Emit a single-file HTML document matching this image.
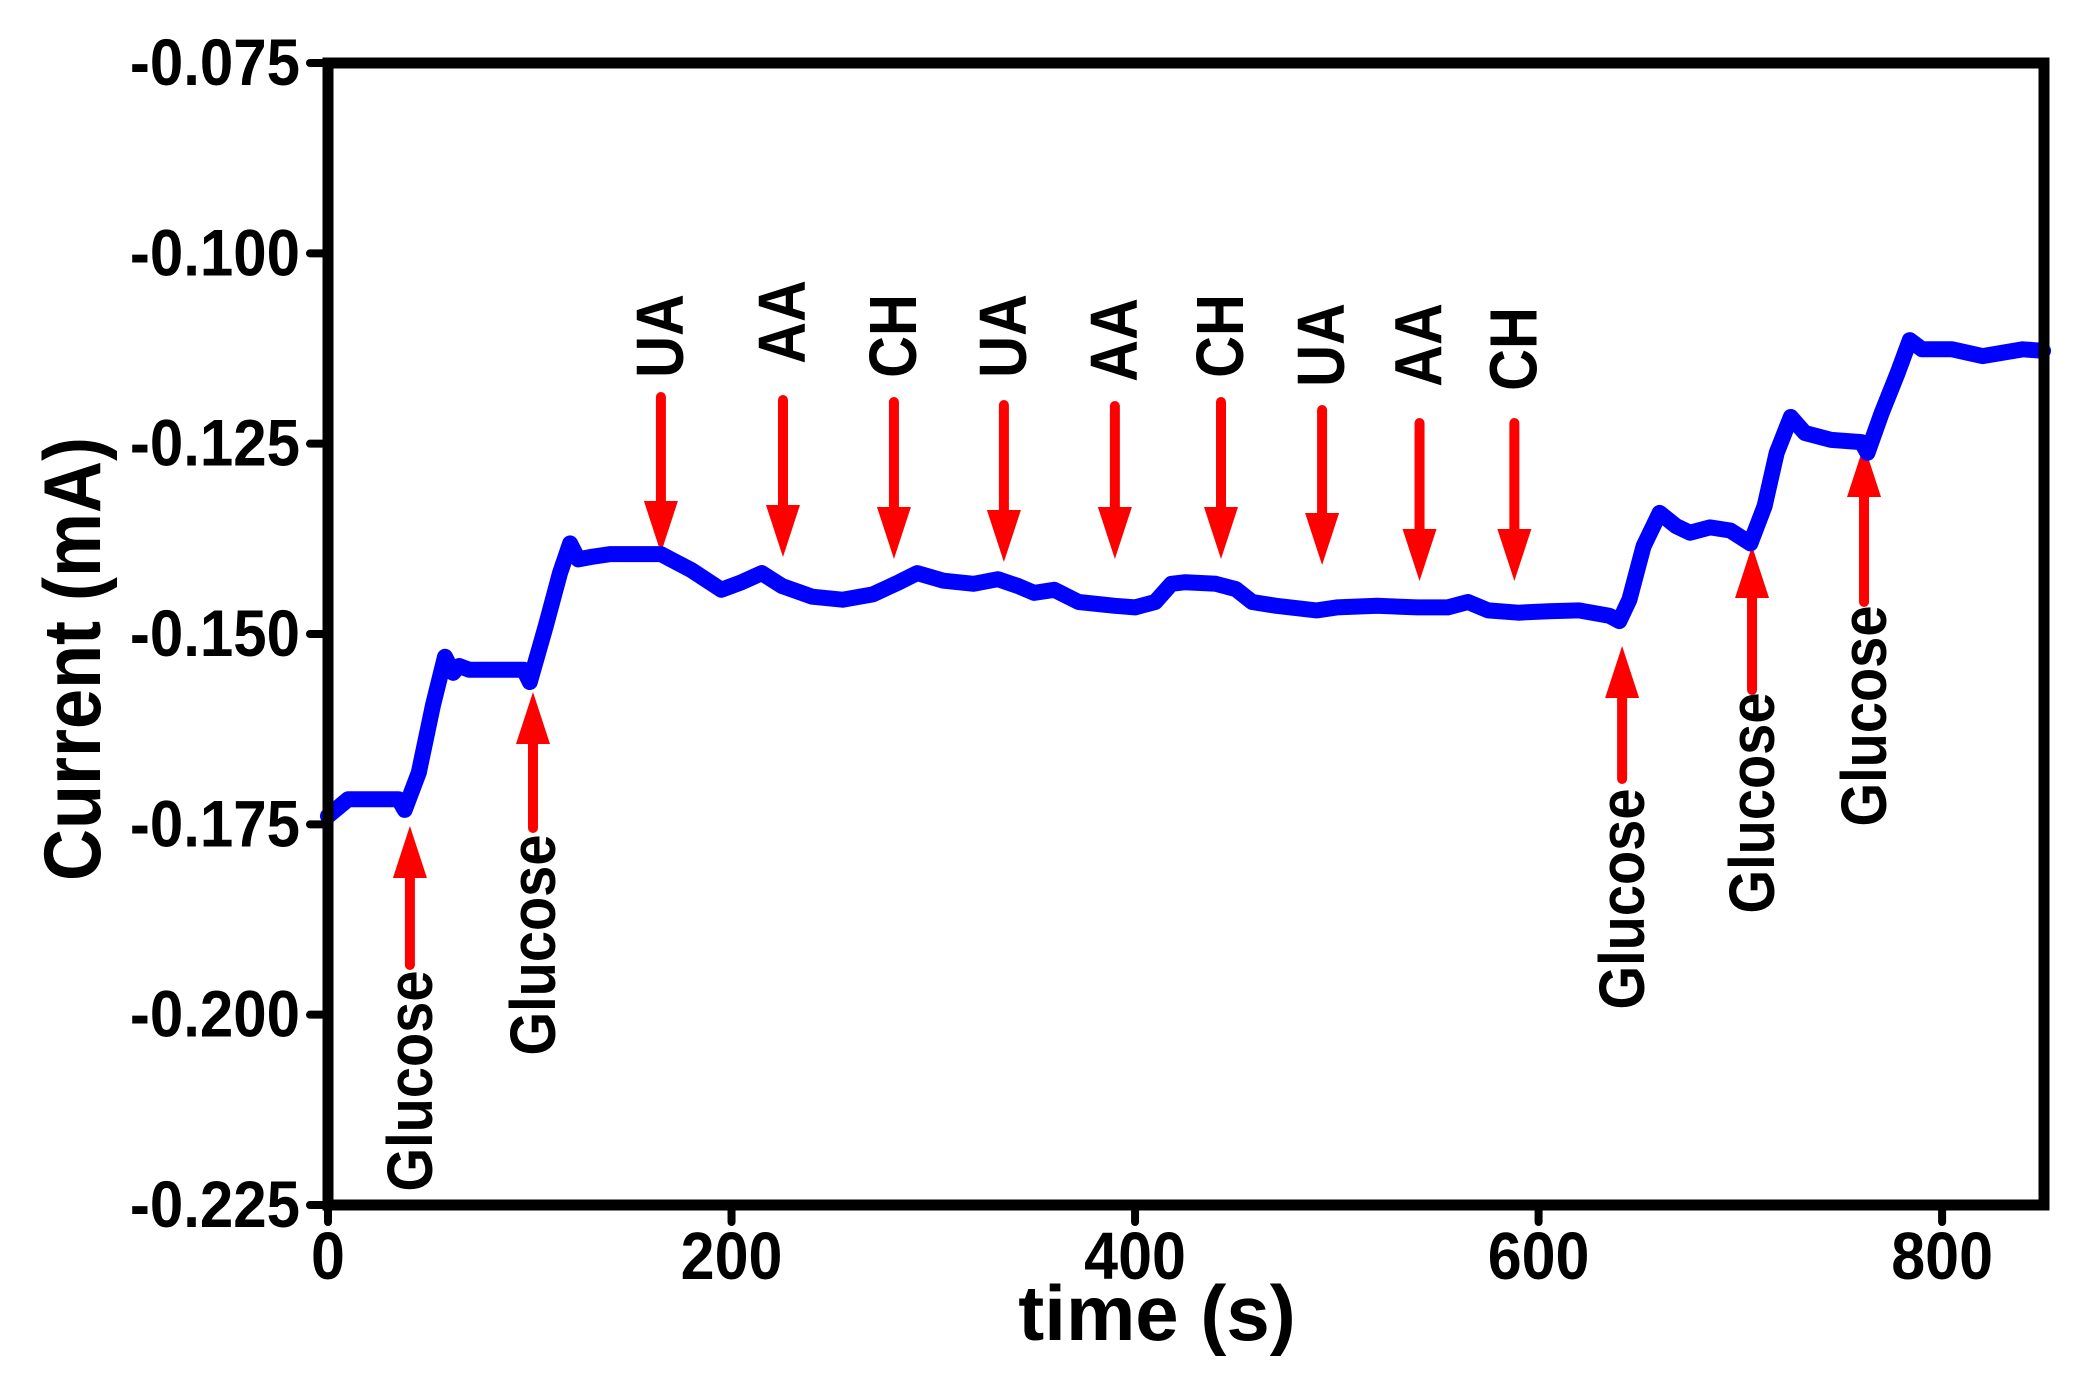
<!DOCTYPE html>
<html><head><meta charset="utf-8"><style>
html,body{margin:0;padding:0;background:#fff;}
svg{display:block;font-family:"Liberation Sans",Arial,sans-serif;font-weight:bold;}
</style></head><body>
<svg id="chart" width="2088" height="1382" viewBox="0 0 2088 1382" xmlns="http://www.w3.org/2000/svg">
<rect x="0" y="0" width="2088" height="1382" fill="#fff"/>
<g id="annot"></g>
<g id="series"></g>
<g id="axes"></g>
<text x="1157" y="1340" font-size="78" text-anchor="middle">time (s)</text>
<text transform="translate(100,659) rotate(-90) scale(1,1.12)" font-size="72" text-anchor="middle">Current (mA)</text>
</svg>
<script>
const times = [0,10,20,35,38,45,52,58,62,65,70,85,97,100,108,115,120,124,130,140,155,165,170,180,195,205,215,225,240,255,270,283,292,305,320,332,342,350,360,372,390,400,410,418,425,440,450,458,470,490,500,520,540,555,565,575,590,605,620,635,640,645,652,660,668,675,685,695,705,712,718,725,732,745,760,763,770,778,784,790,805,820,840,850];
const currents = [-0.1739,-0.1717,-0.1717,-0.1717,-0.1731,-0.1682,-0.1594,-0.1530,-0.1551,-0.1542,-0.1547,-0.1547,-0.1547,-0.1563,-0.1489,-0.1420,-0.1381,-0.1402,-0.1399,-0.1395,-0.1395,-0.1395,-0.1402,-0.1416,-0.1442,-0.1432,-0.1420,-0.1437,-0.1451,-0.1455,-0.1448,-0.1432,-0.1420,-0.1430,-0.1434,-0.1428,-0.1437,-0.1446,-0.1442,-0.1458,-0.1463,-0.1465,-0.1458,-0.1434,-0.1432,-0.1434,-0.1441,-0.1458,-0.1463,-0.1469,-0.1465,-0.1463,-0.1465,-0.1465,-0.1458,-0.1469,-0.1472,-0.1470,-0.1469,-0.1476,-0.1483,-0.1455,-0.1385,-0.1341,-0.1358,-0.1367,-0.1360,-0.1364,-0.1381,-0.1332,-0.1262,-0.1215,-0.1236,-0.1245,-0.1248,-0.1262,-0.1210,-0.1157,-0.1114,-0.1126,-0.1126,-0.1135,-0.1126,-0.1128];
const xTicks = [0,200,400,600,800];
const yTicks = [-0.075,-0.100,-0.125,-0.150,-0.175,-0.200,-0.225];
const downLabels = ["UA","AA","CH","UA","AA","CH","UA","AA","CH"];
const downTimes = [165,225.5,280.5,335,390,442.6,492.7,541,588];
const glucoseTimes = [40.6,101.6,641.4,705.8,761.3];

const NS="http://www.w3.org/2000/svg";
const X0=328,X1=2044,Y0=63,Y1=1205;
const xMin=0,xMax=850.5,yMin=-0.225,yMax=-0.075;
function xs(t){return X0+(t-xMin)/(xMax-xMin)*(X1-X0);}
function ys(v){return Y0+(yMax-v)/(yMax-yMin)*(Y1-Y0);}
function mk(tag,attrs,parent){const e=document.createElementNS(NS,tag);for(const k in attrs)e.setAttribute(k,attrs[k]);parent.appendChild(e);return e;}

const axes=document.getElementById('axes');
const frame=mk('rect',{x:X0,y:Y0,width:X1-X0,height:Y1-Y0,fill:'none',stroke:'#000','stroke-width':11},axes);


xTicks.forEach(t=>{
  const x=xs(t);
  const tk=mk('line',{x1:x,y1:Y1,x2:x,y2:Y1+17,stroke:'#000','stroke-width':8,'stroke-linecap':'round'},axes);
  
  
  const lb=mk('text',{transform:`translate(${x},1279) scale(1,1.1)`,'font-size':61,'text-anchor':'middle'},axes);
  lb.textContent=String(t);
  
  
});
yTicks.forEach(v=>{
  const y=ys(v);
  const tk=mk('line',{x1:X0,y1:y,x2:X0-18,y2:y,stroke:'#000','stroke-width':8,'stroke-linecap':'round'},axes);
  
  
  const lb=mk('text',{transform:`translate(300,${y+22}) scale(1,1.1)`,'font-size':60,'text-anchor':'end'},axes);
  lb.textContent=v.toFixed(3);
  
  
});

const series=document.getElementById('series');
let d='';
times.forEach((t,i)=>{d+=(i?'L':'M')+xs(t).toFixed(1)+','+ys(currents[i]).toFixed(1);});
const line=mk('path',{d:d,fill:'none',stroke:'#0000ff','stroke-width':16,'stroke-linejoin':'round','stroke-linecap':'round'},series);



const annot=document.getElementById('annot');
const downGeom=[[336,397,553],[322,400,557],[336,402,559],[336,405,562],[340,406,559],[336,402,559],[345,410,565],[345,423,581],[349,423,581]];
downTimes.forEach((t,i)=>{
  const x=xs(t),g=downGeom[i];
  const sh=mk('line',{x1:x,y1:g[1],x2:x,y2:g[2]-45,stroke:'#ff0000','stroke-width':10,'stroke-linecap':'round'},annot);
  
  
  const hd=mk('polygon',{points:`${x-17},${g[2]-52} ${x+17},${g[2]-52} ${x},${g[2]}`,fill:'#ff0000'},annot);
  
  
  const lb=mk('text',{transform:`translate(${x+22},${g[0]}) rotate(-90) scale(1,1.15)`,'font-size':58,'text-anchor':'middle'},annot);
  lb.textContent=downLabels[i];
  
  
});
const upGeom=[[826,965,1081],[692,828,945],[646,779,899],[546,690,803],[445,602,716]];
glucoseTimes.forEach((t,i)=>{
  const x=xs(t),g=upGeom[i];
  const sh=mk('line',{x1:x,y1:g[0]+45,x2:x,y2:g[1],stroke:'#ff0000','stroke-width':10,'stroke-linecap':'round'},annot);
  
  
  const hd=mk('polygon',{points:`${x-17},${g[0]+52} ${x+17},${g[0]+52} ${x},${g[0]}`,fill:'#ff0000'},annot);
  
  
  const lb=mk('text',{transform:`translate(${x+22},${g[2]}) rotate(-90) scale(1,1.15)`,'font-size':56,'text-anchor':'middle'},annot);
  lb.textContent='Glucose';
  
  
});
</script>
</body></html>
